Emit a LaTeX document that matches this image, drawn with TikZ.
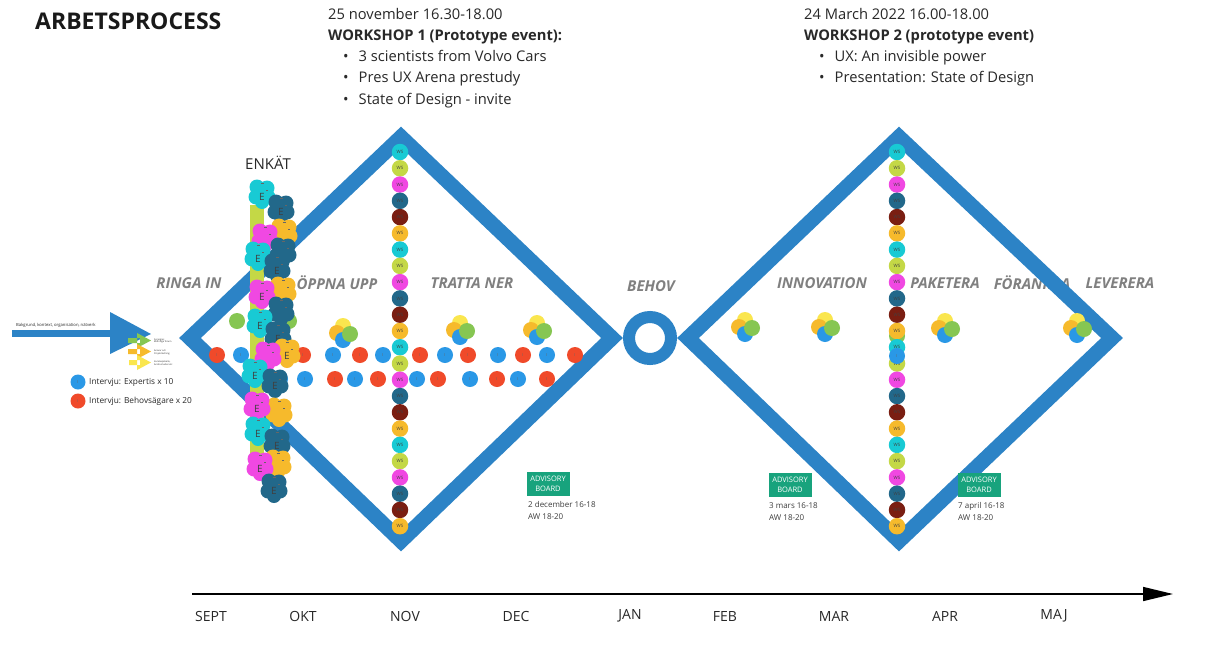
\documentclass[tikz,border=0pt]{standalone}
\usepackage{fontspec}
\setmainfont{Open Sans}
\usetikzlibrary{arrows.meta}

\definecolor{band}{RGB}{44,131,198}
\definecolor{wcyan}{RGB}{24,202,212}
\definecolor{wlime}{RGB}{196,216,70}
\definecolor{wmag}{RGB}{240,72,226}
\definecolor{wteal}{RGB}{34,104,138}
\definecolor{wbrown}{RGB}{122,30,18}
\definecolor{worange}{RGB}{246,186,44}
\definecolor{iblue}{RGB}{42,152,230}
\definecolor{ired}{RGB}{240,74,42}
\definecolor{cgreen}{RGB}{134,198,82}
\definecolor{cyellow}{RGB}{250,230,78}
\definecolor{advgreen}{RGB}{24,163,125}
\definecolor{phase}{RGB}{128,128,128}
\definecolor{body}{RGB}{40,40,40}

% one coloured blob of the survey pile
\newcommand\eblob[4]{%
  \fill[#3] (#1-5,#2-6) circle (7.5pt) (#1+5,#2-5) circle (7.5pt)
            (#1-6,#2+4) circle (7.5pt) (#1+6,#2+4) circle (7.5pt)
            (#1,#2+9) circle (7pt);
  \node[etext] at (#1,#2+4) {#4};
  \draw[black!60, line width=0.4pt] (#1-1,#2-10) -- (#1+2,#2-10)
        (#1+4,#2-3) -- (#1+6,#2-3);
}
% four overlapping idea circles
\newcommand\tetrad[2]{%
  \fill[cyellow] (#1,#2-7) circle (8pt);
  \fill[worange] (#1-6,#2) circle (8pt);
  \fill[iblue] (#1,#2+7) circle (8pt);
  \fill[cgreen] (#1+7,#2+1) circle (8pt);
}

\begin{document}
\begin{tikzpicture}[x=1pt,y=-1pt,
  bandline/.style={draw=band, line width=15pt, line join=miter},
  wsc/.style={circle, minimum size=16.5pt, inner sep=0pt, font=\fontsize{4.5}{5}\selectfont, text=black!75},
  idot/.style={circle, minimum size=16pt, inner sep=0pt, font=\fontsize{4}{5}\selectfont, text=black!60},
  etext/.style={font=\fontsize{10}{10}\selectfont, text=black!75, inner sep=0pt},
  phaselbl/.style={font=\fontsize{15}{17}\selectfont\bfseries\itshape, text=phase},
  month/.style={font=\fontsize{14}{16}\selectfont, text=body},
  wtext/.style={font=\fontsize{14.7}{17}\selectfont, text=body, anchor=base west, inner sep=0pt},
  adv/.style={fill=advgreen, text=white, minimum width=43pt, minimum height=24pt, inner sep=0pt,
              align=center, font=\fontsize{7.5}{10}\selectfont},
  advdate/.style={anchor=north west, inner sep=0pt, align=left, text=body!90,
              font=\fontsize{8}{12}\selectfont},
  tiny/.style={anchor=west, inner sep=0pt, align=left, text=body, font=\fontsize{2.3}{2.8}\selectfont},
  legend/.style={anchor=west, inner sep=0pt, text=body, font=\fontsize{8.3}{9}\selectfont}
]
\useasboundingbox[fill=white] (0,0) rectangle (1206,656);

% ---------- headings ----------
\node[wtext, font=\fontsize{23}{27}\selectfont\bfseries, text=black!90] (title) at (35,29) {ARBETSPROCESS};

\node[wtext] (w1a) at (328,19) {25 november 16.30-18.00};
\node[wtext, font=\fontsize{14.7}{17}\selectfont\bfseries] (w1b) at (328,40) {WORKSHOP 1 (Prototype event):};
\node[wtext] (w1c) at (343,61) {\textbullet\hspace{10pt}3 scientists from Volvo Cars};
\node[wtext] (w1d) at (343,82) {\textbullet\hspace{10pt}Pres UX Arena prestudy};
\node[wtext] (w1e) at (343,104) {\textbullet\hspace{10pt}State of Design - invite};

\node[wtext] (w2a) at (804,19) {24 March 2022 16.00-18.00};
\node[wtext, font=\fontsize{14.7}{17}\selectfont\bfseries] (w2b) at (804,40) {WORKSHOP 2 (prototype event)};
\node[wtext] (w2c) at (819,61) {\textbullet\hspace{10pt}UX: An invisible power};
\node[wtext] (w2d) at (819,82) {\textbullet\hspace{10pt}Presentation: State of Design};

\node[font=\fontsize{15}{17}\selectfont, text=body] (enkat) at (268,163) {ENKÄT};

% ---------- phase labels ----------
\node[phaselbl] (p1) at (189,283) {RINGA IN};
\node[phaselbl] (p2) at (337,283) {ÖPPNA UPP};
\node[phaselbl] (p3) at (472,283) {TRATTA NER};
\node[phaselbl] (p4) at (651,286) {BEHOV};
\node[phaselbl] (p5) at (822,283) {INNOVATION};
\node[phaselbl] (p6) at (945,283) {PAKETERA};
\node[phaselbl] (p7) at (1032,283) {FÖRANKRA};
\node[phaselbl] (p8) at (1120,283) {LEVERERA};

% ---------- double diamond ----------
\coordinate (d1l) at (190,338);
\coordinate (d1t) at (401,137);
\coordinate (d1r) at (612,338);
\coordinate (d1b) at (401,541);
\coordinate (d2l) at (688,338);
\coordinate (d2t) at (899,137);
\coordinate (d2r) at (1112,338);
\coordinate (d2b) at (899,541);
\draw[bandline] (d1l) -- (d1t) -- (d1r) -- (d1b) -- cycle;
\draw[bandline] (d2l) -- (d2t) -- (d2r) -- (d2b) -- cycle;
\coordinate (ring) at (650,338);
\draw[band, line width=12pt] (ring) circle (21pt);

% ---------- input arrow and legend ----------
\coordinate (inA) at (12,333);
\coordinate (inB) at (112,333);
\draw[band, line width=7pt] (inA) -- (inB);
\fill[band] (110,312) -- (151,334) -- (110,354) -- cycle;
\node[anchor=base west, inner sep=0pt, text=body, font=\fontsize{4.2}{5}\selectfont] (bg) at (16,326)
  {Bakgrund, kontext, organisation, nätverk};

\fill[cgreen] (128,338) rectangle (140,343) (137,333) -- (151,340.5) -- (137,348) -- cycle;
\fill[worange] (128,349) rectangle (140,354) (137,344) -- (151,351.5) -- (137,359) -- cycle;
\fill[cyellow] (129,360) rectangle (140,365) (137,355) -- (151,362.5) -- (137,370) -- cycle;
\node[tiny] (s1) at (154,341) {Synergier,\\Befintliga forum};
\node[tiny] (s2) at (154,352) {Ansvar och\\Projektledning};
\node[tiny] (s3) at (154,363) {Kunskapsbank,\\Andra studier etc};

\node[idot, fill=iblue, minimum size=15pt] (lg1) at (78,382) {I};
\node[legend] (lt1) at (89,382) {Intervju: Expertis x 10};
\node[idot, fill=ired, minimum size=15pt] (lg2) at (78,401) {I};
\node[legend] (lt2) at (89,401) {Intervju: Behovsägare x 20};

% ---------- interview dots ----------
\foreach \x/\c in {217/ired,241/iblue,265/ired,303/ired,333/iblue,360/ired,383/iblue,420/ired,
                   445/iblue,468/ired,498/iblue,523/ired,547/iblue,575/ired}
  \node[idot, fill=\c] at (\x,355) {I};
\foreach \x/\c in {280/iblue,305/iblue,335/ired,355/iblue,378/ired,417/iblue,438/ired,470/iblue,
                   497/ired,518/iblue,547/ired}
  \node[idot, fill=\c] at (\x,379) {I};

% ---------- idea clusters ----------
\tetrad{343}{333}
\tetrad{460}{330}
\tetrad{537}{330}
\tetrad{745}{327}
\tetrad{825}{327}
\tetrad{945}{328}
\tetrad{1077}{328}

% ---------- survey pile ----------
\fill[cgreen] (237,321) circle (8pt);
\fill[cgreen] (289,321) circle (8pt);
\fill[wlime] (250,205) rectangle (264,470);
\eblob{262}{193}{wcyan}{E}
\eblob{281}{208}{wteal}{E}
\eblob{284}{232}{worange}{}
\eblob{265}{237}{wmag}{}
\eblob{283}{251}{wteal}{}
\eblob{258}{255}{wcyan}{E}
\eblob{277}{267}{wteal}{E}
\eblob{283}{290}{worange}{}
\eblob{262}{293}{wmag}{E}
\eblob{281}{310}{wteal}{}
\eblob{260}{322}{wcyan}{E}
\eblob{278}{335}{wteal}{E}
\eblob{287}{352}{worange}{E}
\eblob{268}{355}{wmag}{}
\eblob{255}{372}{wcyan}{E}
\eblob{275}{382}{wteal}{E}
\eblob{279}{411}{worange}{}
\eblob{257}{405}{wmag}{E}
\eblob{258}{430}{wcyan}{E}
\eblob{277}{442}{wteal}{E}
\eblob{278}{463}{worange}{}
\eblob{260}{465}{wmag}{E}
\eblob{274}{487}{wteal}{E}

% ---------- workshop columns ----------
\fill[cgreen] (897,336) circle (8pt);
\foreach \i in {0,...,23} {
  \pgfmathtruncatemacro\k{mod(\i,6)}
  \ifcase\k \def\cc{wcyan}\or \def\cc{wlime}\or \def\cc{wmag}\or \def\cc{wteal}\or \def\cc{wbrown}\or \def\cc{worange}\fi
  \pgfmathsetmacro\yy{152+16.27*\i}
  \node[wsc, fill=\cc] at (400,\yy) {WS};
  \node[wsc, fill=\cc] at (897,\yy) {WS};
}
\node[idot, fill=iblue] (i2) at (897,356) {I};

% ---------- advisory boards ----------
\node[adv] (adv1) at (548,484) {ADVISORY\\BOARD};
\node[advdate] (ad1) at (528,501) {2 december 16-18\\AW 18-20};
\node[adv] (adv2) at (790,485) {ADVISORY\\BOARD};
\node[advdate] (ad2) at (769,502) {3 mars 16-18\\AW 18-20};
\node[adv] (adv3) at (979,485) {ADVISORY\\BOARD};
\node[advdate] (ad3) at (958,502) {7 april 16-18\\AW 18-20};

% ---------- timeline ----------
\coordinate (t0) at (192,594);
\coordinate (t1) at (1173,594);
\draw[black, line width=1.6pt, -{Triangle[length=30pt,width=14pt]}] (t0) -- (t1);
\foreach \x/\m in {211/SEPT,303/OKT,405/NOV,516/DEC,630/JAN,725/FEB,834/MAR,945/APR,1054/MAJ}
  \node[month] at (\x,616) {\m};
\end{tikzpicture}
\end{document}
